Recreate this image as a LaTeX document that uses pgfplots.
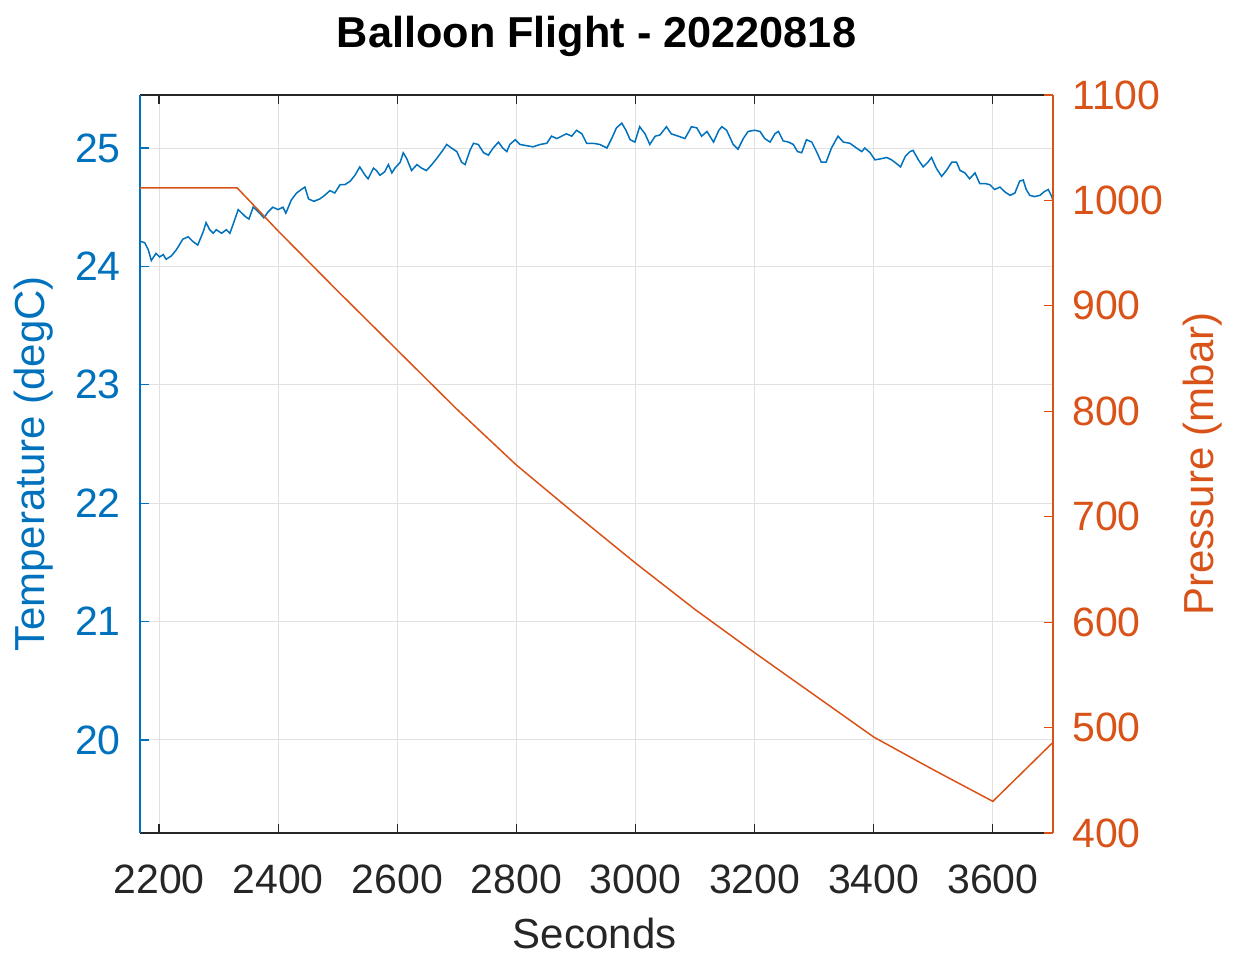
\documentclass[border=0pt]{standalone}
\usepackage{pgfplots}
\pgfplotsset{compat=1.18}
\usepackage{fontspec}
\setmainfont{Liberation Sans}
\definecolor{mblue}{RGB}{0,114,189}
\definecolor{morange}{RGB}{217,83,25}
\definecolor{mgray}{RGB}{38,38,38}
\definecolor{mgrid}{RGB}{225,225,225}
\pgfplotstableread{
x T
2168 24.21
2170 24.21
2176 24.20
2182 24.14
2187 24.05
2195 24.11
2201 24.08
2207 24.10
2212 24.06
2221 24.09
2229 24.14
2240 24.23
2249 24.25
2257 24.21
2265 24.18
2274 24.29
2279 24.37
2285 24.31
2291 24.28
2296 24.31
2305 24.28
2313 24.31
2319 24.28
2324 24.35
2333 24.48
2339 24.45
2345 24.42
2351 24.40
2358 24.50
2363 24.48
2369 24.45
2376 24.41
2383 24.46
2391 24.50
2400 24.48
2408 24.50
2413 24.45
2422 24.56
2431 24.62
2439 24.65
2445 24.67
2451 24.57
2460 24.55
2470 24.57
2478 24.60
2487 24.64
2495 24.62
2504 24.69
2512 24.69
2521 24.72
2529 24.77
2537 24.84
2546 24.77
2551 24.74
2560 24.83
2565 24.81
2571 24.77
2579 24.80
2585 24.86
2591 24.79
2596 24.83
2605 24.88
2610 24.96
2616 24.91
2624 24.81
2633 24.86
2641 24.83
2649 24.81
2658 24.86
2666 24.91
2675 24.97
2683 25.03
2691 25.00
2700 24.97
2708 24.88
2714 24.86
2722 24.98
2728 25.04
2736 25.03
2745 24.96
2753 24.94
2761 25.00
2770 25.05
2777 25.00
2784 24.97
2789 25.03
2798 25.07
2806 25.03
2817 25.02
2828 25.01
2840 25.03
2851 25.04
2859 25.10
2868 25.08
2876 25.10
2884 25.12
2893 25.10
2901 25.15
2910 25.12
2918 25.04
2929 25.04
2940 25.03
2952 25.00
2960 25.08
2968 25.17
2977 25.21
2984 25.15
2991 25.07
2999 25.05
3007 25.18
3016 25.12
3024 25.03
3033 25.10
3041 25.11
3052 25.18
3060 25.12
3072 25.10
3083 25.08
3094 25.18
3103 25.17
3111 25.10
3120 25.14
3131 25.05
3140 25.15
3145 25.18
3153 25.15
3164 25.03
3172 24.99
3181 25.08
3189 25.14
3200 25.15
3209 25.14
3217 25.08
3226 25.05
3234 25.12
3240 25.14
3248 25.06
3257 25.05
3265 25.03
3272 24.97
3279 24.96
3287 25.07
3296 25.05
3304 24.97
3312 24.88
3320 24.88
3329 25.00
3340 25.10
3349 25.05
3360 25.04
3371 25.00
3380 24.97
3385 25.00
3394 24.96
3402 24.90
3413 24.91
3422 24.92
3430 24.90
3438 24.87
3445 24.84
3453 24.93
3461 24.97
3466 24.98
3475 24.90
3483 24.84
3491 24.88
3497 24.92
3505 24.83
3514 24.76
3522 24.81
3531 24.88
3539 24.88
3545 24.81
3553 24.79
3561 24.74
3570 24.79
3578 24.70
3587 24.70
3595 24.69
3603 24.65
3612 24.67
3620 24.63
3629 24.60
3637 24.62
3645 24.72
3651 24.73
3656 24.65
3662 24.60
3670 24.59
3679 24.60
3686 24.63
3693 24.65
3699 24.59
3701 24.55
}\temptable
\pgfplotstableread{
x P
2168 1012
2331 1012
2400 971
2500 914
2600 858
2700 802
2800 749
2900 702
3000 656
3100 612
3200 571
3300 531
3400 491
3500 460
3600 430
3701 486
}\prestable
\begin{document}
\begin{tikzpicture}
\pgfplotsset{
  every axis/.append style={
    scale only axis, width=365.2pt, height=295.2pt,
    xmin=2168, xmax=3701,
    tick label style={font=\fontsize{16.4}{19}\selectfont},
    label style={font=\fontsize{16.8}{20}\selectfont},
    /pgf/number format/assume math mode=true,
    /pgf/number format/1000 sep={},
    major tick length=3.6pt,
    tick align=inside,
  }
}
\begin{axis}[
  clip=false,
  separate axis lines,
  x axis line style={color=mgray, line width=0.6pt},
  y axis line style={color=mblue, line width=0.6pt},
  ymin=19.214, ymax=25.448,
  xtick={2200,2400,...,3600},
  ytick={20,21,...,25},
  ytick pos=left,
  xtick pos=both,
  x tick style={color=mgray, line width=0.5pt},
  y tick style={color=mblue, line width=0.5pt},
  xticklabel style={color=mgray, inner sep=0pt, yshift=-12.5pt},
  yticklabel style={color=mblue, inner sep=0pt, xshift=-7.5pt},
  xmajorgrids, ymajorgrids,
  grid style={color=mgrid, line width=0.4pt},
  xlabel={Seconds},
  xlabel style={color=mgray, at={(axis description cs:0.498,-0.1355)}, anchor=center},
  ylabel={Temperature (degC)},
  ylabel style={color=mblue, at={(axis description cs:-0.117,0.5)}, anchor=center},
  title={\textbf{Balloon Flight - 20220818}},
  title style={font=\fontsize{17.3}{21}\selectfont, at={(axis description cs:0.5,1.08)}, anchor=center, yshift=-6pt},
]
\addplot[color=mblue, line width=0.6pt] table[x=x, y=T] {\temptable};
\path (axis description cs:-0.1533,-0.164) rectangle (axis description cs:1.2048,1.1287);
\end{axis}
\begin{axis}[
  axis x line=none,
  axis y line*=right,
  y axis line style={color=morange, line width=0.6pt},
  ymin=400, ymax=1100,
  ytick={400,500,...,1100},
  y tick style={color=morange, line width=0.5pt},
  yticklabel style={color=morange, inner sep=0pt, xshift=7.5pt},
  ylabel={Pressure (mbar)},
  ylabel style={color=morange, at={(axis description cs:1.164,0.5)}, anchor=center, rotate=0},
]
\addplot[color=morange, line width=0.6pt] table[x=x, y=P] {\prestable};
\end{axis}
\end{tikzpicture}
\end{document}
